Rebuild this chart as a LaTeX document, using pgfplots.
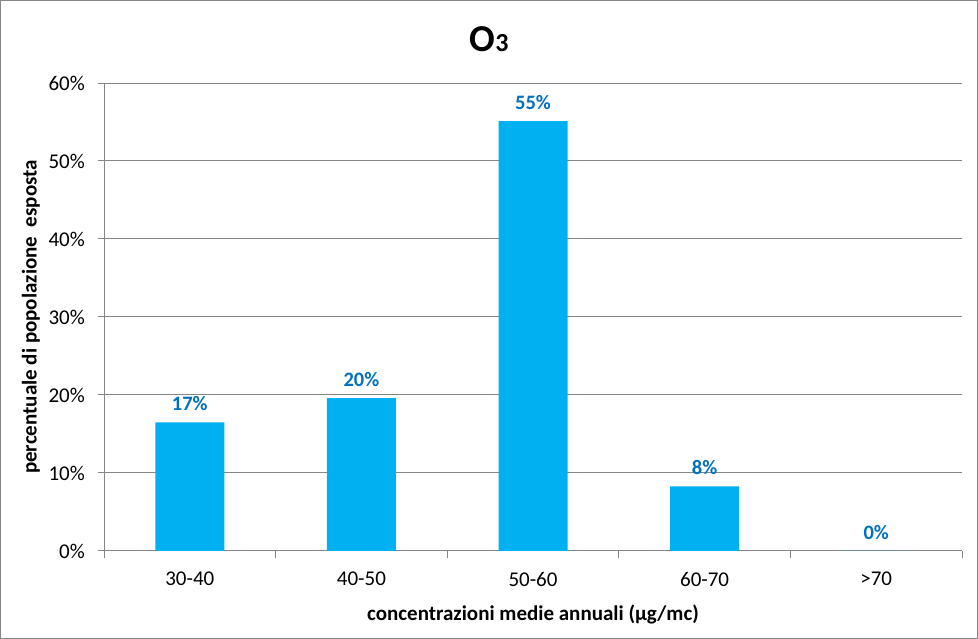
\documentclass[border=0pt]{standalone}
\usepackage{pgfplots}
\pgfplotsset{compat=1.18}
\usepackage{fontspec}
\setmainfont{Carlito}
\definecolor{barblue}{HTML}{00B0F0}
\definecolor{lblblue}{HTML}{0070C0}
\definecolor{gridgray}{HTML}{868686}
\begin{document}
\begin{tikzpicture}
\useasboundingbox (0,0) rectangle (978bp,639bp);
\draw[gridgray, line width=1.2bp] (0.6bp,0.6bp) rectangle (977.4bp,638.4bp);
\node[font=\fontsize{38bp}{40bp}\selectfont\bfseries, anchor=base] at (489bp,587bp) {O{\fontsize{26bp}{28bp}\selectfont 3}};
\begin{axis}[
  at={(104bp,88bp)}, anchor=south west,
  scale only axis, width=858bp, height=468bp,
  ybar, bar width=69bp,
  xmin=-0.5, xmax=4.5, ymin=0, ymax=60,
  axis lines*=left,
  axis line style={gridgray, line width=1bp},
  xtick={0,1,2,3,4},
  xticklabels={30-40,40-50,50-60,60-70,>70},
  minor xtick={-0.5,0.5,1.5,2.5,3.5,4.5},
  ytick={0,10,...,60},
  yticklabel={\pgfmathprintnumber{\tick}\%},
  /pgf/number format/assume math mode=true,
  tick align=outside,
  major x tick style={draw=none},
  minor x tick style={gridgray, line width=1bp},
  y tick style={gridgray, line width=1bp},
  minor tick length=7bp, major tick length=6bp,
  ymajorgrids, grid style={gridgray, line width=1bp},
  ticklabel style={font=\fontsize{21bp}{23bp}\selectfont},
  yticklabel style={inner sep=0pt, xshift=-13bp},
  xticklabel style={inner sep=0pt, yshift=-15bp},
  xlabel={concentrazioni medie annuali (µg/mc)},
  ylabel={percentuale di popolazione \ esposta},
  label style={font=\fontsize{21bp}{23bp}\selectfont\bfseries},
  xlabel style={at={(axis description cs:0.5,0)}, anchor=base, yshift=-69bp},
  ylabel style={at={(axis description cs:-0.0851,0.5)}, anchor=center},
  nodes near coords,
  point meta=explicit symbolic,
  every node near coord/.append style={font=\fontsize{20.5bp}{22bp}\selectfont\bfseries, text=lblblue, inner sep=0pt, anchor=south, yshift=11bp},
]
\addplot[fill=barblue, draw=none] coordinates {
  (0,16.5) [17\%]
  (1,19.6) [20\%]
  (2,55.1) [55\%]
  (3,8.3) [8\%]
  (4,0) [0\%]
};
\end{axis}
\end{tikzpicture}
\end{document}
